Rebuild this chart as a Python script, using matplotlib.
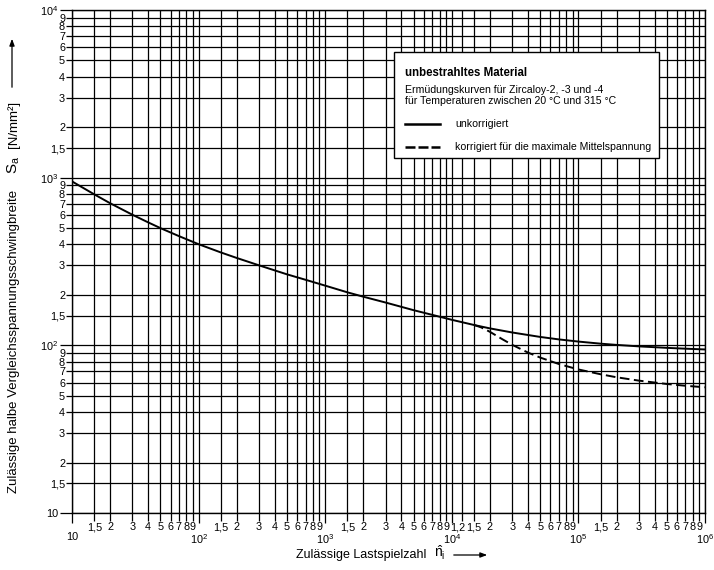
import matplotlib
matplotlib.use("Agg")
import matplotlib.pyplot as plt
import matplotlib.transforms as mtransforms
from matplotlib.patches import Rectangle, FancyArrowPatch
from matplotlib.ticker import FixedLocator, FixedFormatter

plt.rcParams['font.family'] = ['Liberation Sans', 'DejaVu Sans']
plt.rcParams['mathtext.fontset'] = 'custom'
plt.rcParams['mathtext.rm'] = 'Liberation Sans'
plt.rcParams['mathtext.it'] = 'Liberation Sans'

# ---- data ----
n_solid = [10, 15, 20, 30, 40, 50, 70, 100, 150, 200, 300, 500, 700,
           1000, 1500, 2000, 3000, 5000, 7000, 10000, 15000, 20000, 30000,
           50000, 70000, 100000, 150000, 200000, 300000, 500000, 700000, 1000000]
s_solid = [950, 795, 704, 601, 541, 500, 448, 401, 358, 332, 300, 265, 246,
           227, 207, 195, 180, 162, 152, 142, 132.2, 126.2, 119.3,
           112.2, 108.5, 105.3, 102.3, 100.6, 98.6, 96.6, 95.5, 94.5]

n_dash = [15000, 17000, 20000, 25000, 30000, 40000, 50000, 70000, 100000,
          150000, 200000, 300000, 500000, 700000, 1000000]
s_dash = [132.2, 128.1, 120.4, 108.9, 100.7, 90.5, 84.5, 77.4, 71.8,
          67.2, 64.5, 61.6, 58.8, 57.4, 56.2]

x_decades = [10, 100, 1000, 10000, 100000, 1000000]
x_decade_labels = ['10', r'$\mathregular{10^2}$', r'$\mathregular{10^3}$',
                   r'$\mathregular{10^4}$', r'$\mathregular{10^5}$', r'$\mathregular{10^6}$']
x_minor_mult = [1.5, 2, 3, 4, 5, 6, 7, 8, 9]
x_minor_labels = ['1,5', '2', '3', '4', '5', '6', '7', '8', '9']
x_extra_tick = 12000
x_extra_label = '1,2'

y_decades = [10, 100, 1000, 10000]
y_decade_labels = ['10', r'$\mathregular{10^2}$', r'$\mathregular{10^3}$', r'$\mathregular{10^4}$']
y_minor_mult = [1.5, 2, 3, 4, 5, 6, 7, 8, 9]
y_minor_labels = ['1,5', '2', '3', '4', '5', '6', '7', '8', '9']

# ---- figure ----
W, H = 714, 570
fig = plt.figure(figsize=(W / 100, H / 100), dpi=100)
ax_l, ax_r, ax_t, ax_b = 72, 705, 10, 513
ax = fig.add_axes([ax_l / W, 1 - ax_b / H, (ax_r - ax_l) / W, (ax_b - ax_t) / H])
ax.set_xscale('log')
ax.set_yscale('log')
ax.set_xlim(10, 1e6)
ax.set_ylim(10, 1e4)

# x ticks
xminor, xminor_lab = [], []
for d in x_decades[:-1]:
    for m, lab in zip(x_minor_mult, x_minor_labels):
        xminor.append(d * m)
        xminor_lab.append(lab)
xminor.append(x_extra_tick)
xminor_lab.append('')  # label placed separately (crowded spot)
ax.xaxis.set_major_locator(FixedLocator(x_decades))
ax.xaxis.set_major_formatter(FixedFormatter(x_decade_labels))
ax.xaxis.set_minor_locator(FixedLocator(xminor))
ax.xaxis.set_minor_formatter(FixedFormatter(xminor_lab))

# y ticks
yminor, yminor_lab = [], []
for d in y_decades[:-1]:
    for m, lab in zip(y_minor_mult, y_minor_labels):
        yminor.append(d * m)
        yminor_lab.append(lab)
ax.yaxis.set_major_locator(FixedLocator(y_decades))
ax.yaxis.set_major_formatter(FixedFormatter(y_decade_labels))
ax.yaxis.set_minor_locator(FixedLocator(yminor))
ax.yaxis.set_minor_formatter(FixedFormatter(yminor_lab))

TS = 7.8
ax.tick_params(axis='x', which='minor', length=6, width=0.9, pad=0.5, labelsize=TS)
ax.tick_params(axis='x', which='major', length=7, width=0.9, pad=7, labelsize=TS)
ax.tick_params(axis='y', which='minor', length=4, width=0.9, pad=1, labelsize=TS)
ax.tick_params(axis='y', which='major', length=9, width=0.9, pad=1, labelsize=TS)

def shift(dx_px, dy_px):
    return mtransforms.ScaledTranslation(dx_px / 100, dy_px / 100, fig.dpi_scale_trans)

for tick in ax.yaxis.get_major_ticks():
    loc = tick.get_loc()
    if loc > 10:
        tick.label1.set_verticalalignment('baseline')
    if loc >= 10000:
        tick.label1.set_transform(tick.label1.get_transform() + shift(0, -3))

# the "1,2" label of the 10^4 decade, set just left of its tick
ax.annotate(x_extra_label, xy=(x_extra_tick, 0), xycoords=('data', 'axes fraction'),
            xytext=(2.2, -6.5), textcoords='offset points', ha='right', va='top',
            fontsize=TS)

ax.set_axisbelow(True)
ax.grid(which='both', color='black', linewidth=0.9)
for s in ax.spines.values():
    s.set_linewidth(1.0)

# curves
ax.plot(n_solid, s_solid, color='black', lw=1.4, zorder=4, solid_joinstyle='round')
ax.plot(n_dash, s_dash, color='black', lw=1.4, linestyle=(0, (5, 2.3)), zorder=4)

# legend box (manual, in axes fraction)
def axx(px):
    return (px - ax_l) / (ax_r - ax_l)

def axy(py):
    return (ax_b - py) / (ax_b - ax_t)

ax.add_patch(Rectangle((axx(394), axy(158)), axx(659) - axx(394), axy(52) - axy(158),
                       transform=ax.transAxes, facecolor='white', edgecolor='black',
                       lw=1.0, zorder=5))
ax.text(axx(405), axy(73), 'unbestrahltes Material', transform=ax.transAxes,
        fontsize=8.3, fontweight='bold', va='center', ha='left', zorder=6)
ax.text(axx(405), axy(90), 'Ermüdungskurven für Zircaloy-2, -3 und -4',
        transform=ax.transAxes, fontsize=7.6, va='center', ha='left', zorder=6)
ax.text(axx(405), axy(101.5), 'für Temperaturen zwischen 20 °C und 315 °C',
        transform=ax.transAxes, fontsize=7.6, va='center', ha='left', zorder=6)
ax.plot([axx(405), axx(440)], [axy(124), axy(124)], transform=ax.transAxes,
        color='black', lw=1.8, zorder=6)
ax.text(axx(455), axy(124), 'unkorrigiert', transform=ax.transAxes,
        fontsize=7.6, va='center', ha='left', zorder=6)
ax.plot([axx(405), axx(440)], [axy(147), axy(147)], transform=ax.transAxes,
        color='black', lw=1.8, linestyle=(0, (4, 1.2)), zorder=6)
ax.text(axx(455), axy(147), 'korrigiert für die maximale Mittelspannung',
        transform=ax.transAxes, fontsize=7.6, va='center', ha='left', zorder=6)

# y label
fig.text(14 / W, 1 - 341 / H, 'Zulässige halbe Vergleichsspannungsschwingbreite',
         rotation=90, fontsize=9.5, ha='center', va='center')
fig.text(14 / W, 1 - 165 / H, r'$\mathregular{S_a}$', rotation=90, fontsize=11,
         ha='center', va='center')
fig.text(14 / W, 1 - 124 / H, '[N/mm²]', rotation=90, fontsize=9.5,
         ha='center', va='center')
fig.patches.append(FancyArrowPatch(
    (12 / W, 1 - 90 / H), (12 / W, 1 - 36 / H), transform=fig.transFigure,
    arrowstyle='-|>,head_length=4,head_width=1.5', color='black', lw=0.9))

# x label
fig.text(296 / W, 1 - 555 / H, 'Zulässige Lastspielzahl', fontsize=9,
         ha='left', va='center')
fig.text(434 / W, 1 - 553 / H, r'$\mathregular{\hat{n}_i}$', fontsize=10,
         ha='left', va='center')
fig.patches.append(FancyArrowPatch(
    (451 / W, 1 - 555 / H), (490 / W, 1 - 555 / H), transform=fig.transFigure,
    arrowstyle='-|>,head_length=4,head_width=1.5', color='black', lw=0.9))

fig.savefig('out.png', dpi=100)
